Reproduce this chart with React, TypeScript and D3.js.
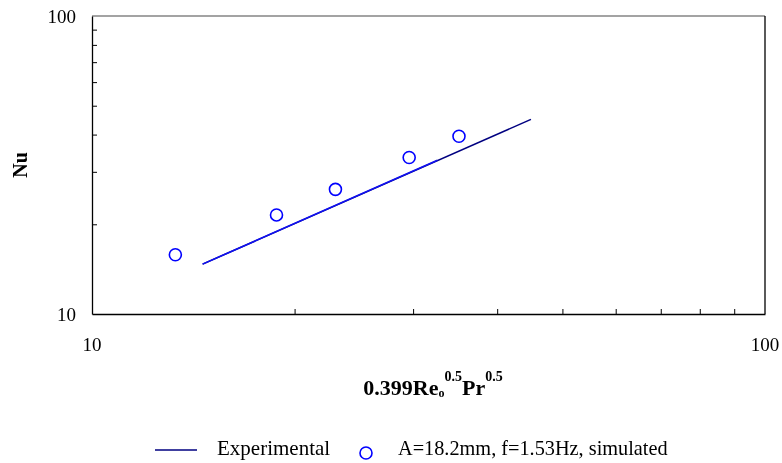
import { useRef, useEffect } from "react";
import * as d3 from "d3";

// values (log-log chart)
const simX = [13.3, 18.8, 23.0, 29.6, 35.1];
const simNu = [15.8, 21.5, 26.2, 33.5, 39.5];
const expX = [14.6, 44.9];
const expNu = [14.7, 45.0];
const fitX = [14.6, 32.6];
const fitNu = [14.7, 32.8];
const xTickLabels = [10, 100];
const yTickLabels = [10, 100];
const minorTicks = [20, 30, 40, 50, 60, 70, 80, 90];

export default function App() {
  const svgRef = useRef<SVGSVGElement>(null);

  useEffect(() => {
    const svg = d3.select(svgRef.current);
    svg.selectAll("*").remove();

    const width = 782;
    const height = 463;
    const margin = { top: 16, right: 17, bottom: 149, left: 92 };
    const font = "'Liberation Serif', 'Times New Roman', serif";

    svg.attr("width", width).attr("height", height).style("font-family", font);

    const x = d3.scaleLog().domain([10, 100]).range([margin.left, width - margin.right]);
    const y = d3.scaleLog().domain([10, 100]).range([height - margin.bottom, margin.top]);

    const [x0, x1] = x.range();
    const [yb, yt] = y.range();

    // plot frame: top gray, right black
    svg.append("line").attr("x1", x0).attr("x2", x1).attr("y1", yt).attr("y2", yt)
      .attr("stroke", "#858585").attr("stroke-width", 1.3);
    svg.append("line").attr("x1", x1).attr("x2", x1).attr("y1", yt).attr("y2", yb)
      .attr("stroke", "#000").attr("stroke-width", 1.3);

    // axes with inward ticks
    const xAxis = svg.append("g").attr("transform", `translate(0,${yb})`)
      .call(d3.axisBottom(x).tickValues(minorTicks).tickSizeInner(-5).tickSizeOuter(0).tickFormat(() => ""));
    const yAxis = svg.append("g").attr("transform", `translate(${x0},0)`)
      .call(d3.axisLeft(y).tickValues(minorTicks).tickSizeInner(-5).tickSizeOuter(0).tickFormat(() => ""));
    [xAxis, yAxis].forEach((g) => {
      g.select(".domain").attr("stroke", "#000").attr("stroke-width", 1.3);
      g.selectAll(".tick line").attr("stroke", "#000").attr("stroke-width", 1);
    });

    // tick labels
    svg.selectAll(".xlab").data(xTickLabels).join("text")
      .attr("x", (d) => x(d)).attr("y", 351)
      .attr("text-anchor", "middle").attr("font-size", 19).attr("fill", "#000")
      .text((d) => d);
    svg.selectAll(".ylab").data(yTickLabels).join("text")
      .attr("x", 76).attr("y", (d) => y(d) + 7)
      .attr("text-anchor", "end").attr("font-size", 19).attr("fill", "#000")
      .text((d) => d);

    // lines
    const line = d3.line<[number, number]>().x((d) => x(d[0])).y((d) => y(d[1]));
    svg.append("path").datum(expX.map((v, i) => [v, expNu[i]] as [number, number]))
      .attr("d", line).attr("fill", "none").attr("stroke", "#000080").attr("stroke-width", 1.5);
    svg.append("path").datum(fitX.map((v, i) => [v, fitNu[i]] as [number, number]))
      .attr("d", line).attr("fill", "none").attr("stroke", "#1010f0").attr("stroke-width", 1.6);

    // simulated points
    svg.selectAll(".pt").data(simX).join("circle")
      .attr("cx", (d) => x(d)).attr("cy", (_, i) => y(simNu[i])).attr("r", 6)
      .attr("fill", "none").attr("stroke", "#0000ff").attr("stroke-width", 1.6);

    // axis titles
    const xt = svg.append("text").attr("x", 433).attr("y", 395)
      .attr("text-anchor", "middle").attr("font-weight", "bold").attr("font-size", 22).attr("fill", "#000");
    xt.append("tspan").text("0.399Re");
    xt.append("tspan").attr("font-size", 12).attr("dy", 2).text("o");
    xt.append("tspan").attr("font-size", 14).attr("dy", -16).text("0.5");
    xt.append("tspan").attr("dy", 14).text("Pr");
    xt.append("tspan").attr("font-size", 14).attr("dy", -14).text("0.5");

    svg.append("text").attr("transform", `translate(27,${(yt + yb) / 2}) rotate(-90)`)
      .attr("text-anchor", "middle").attr("font-weight", "bold").attr("font-size", 20).attr("fill", "#000")
      .text("Nu");

    // legend
    svg.append("line").attr("x1", 155).attr("x2", 197).attr("y1", 450).attr("y2", 450)
      .attr("stroke", "#000080").attr("stroke-width", 1.5);
    svg.append("text").attr("x", 217).attr("y", 455).attr("font-size", 21).attr("fill", "#000")
      .text("Experimental");
    svg.append("circle").attr("cx", 366).attr("cy", 453).attr("r", 6)
      .attr("fill", "none").attr("stroke", "#0000ff").attr("stroke-width", 1.6);
    svg.append("text").attr("x", 398).attr("y", 455).attr("font-size", 20.3).attr("fill", "#000")
      .text("A=18.2mm, f=1.53Hz, simulated");
  }, []);

  return (
    <div style={{ position: "fixed", left: 0, top: 0 }}>
      <svg ref={svgRef} style={{ display: "block" }} />
    </div>
  );
}
